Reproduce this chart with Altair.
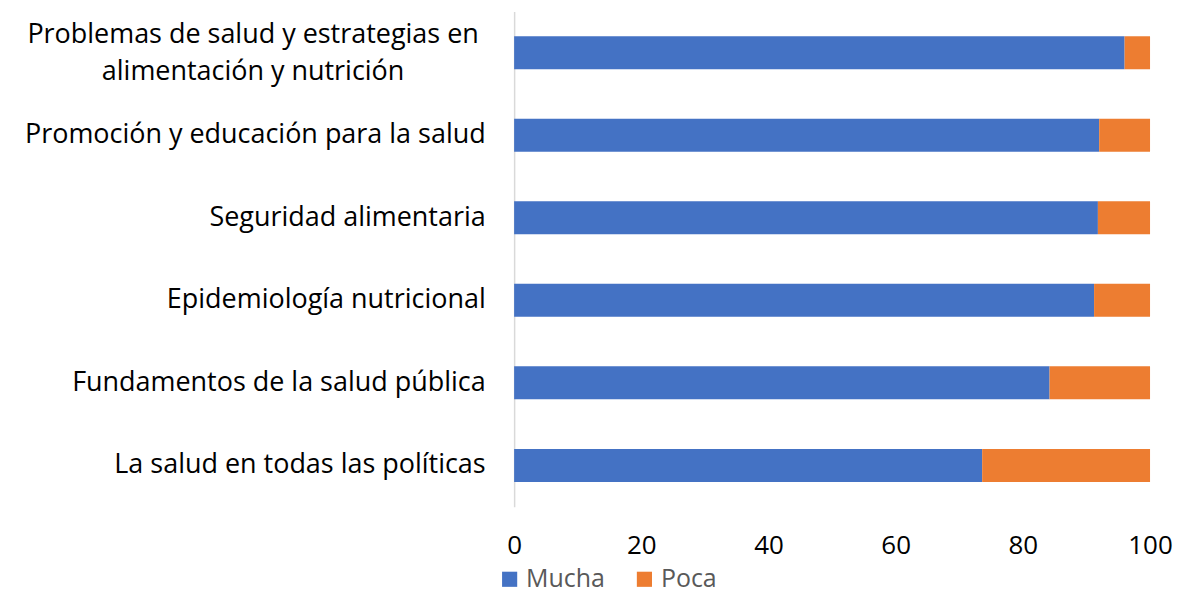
import altair as alt
import pandas as pd

categories = [
    "Problemas de salud y estrategias en|alimentación y nutrición",
    "Promoción y educación para la salud",
    "Seguridad alimentaria",
    "Epidemiología nutricional",
    "Fundamentos de la salud pública",
    "La salud en todas las políticas",
]
mucha = [96.0, 92.0, 91.8, 91.2, 84.2, 73.6]
poca = [4.0, 8.0, 8.2, 8.8, 15.8, 26.4]
series = ["Mucha", "Poca"]
colors = ["#4472C4", "#ED7D31"]

rows = []
for c, m, p in zip(categories, mucha, poca):
    rows.append({"cat": c, "serie": "Mucha", "val": m, "ord": 0})
    rows.append({"cat": c, "serie": "Poca", "val": p, "ord": 1})
df = pd.DataFrame(rows)

FONT = "Open Sans"
WRAP = "indexof(datum.value, '|') >= 0"

chart = alt.Chart(df).mark_bar().encode(
    y=alt.Y("cat:N", sort=categories, title=None,
            scale=alt.Scale(paddingInner=0.6, paddingOuter=0.3),
            axis=alt.Axis(labelExpr="split(datum.label, '|')", labelFontSize=27,
                          labelColor="#000000", labelFont=FONT, ticks=False,
                          labelPadding={"condition": {"test": WRAP, "value": 262}, "value": 29},
                          labelAlign={"condition": {"test": WRAP, "value": "center"}, "value": "right"},
                          labelLimit=600, labelLineHeight=37,
                          labelOffset={"condition": {"test": WRAP, "value": -18}, "value": 0},
                          domainColor="#D9D9D9", domainWidth=1.5)),
    x=alt.X("val:Q", stack="zero", title=None,
            scale=alt.Scale(domain=[0, 100], nice=False),
            axis=alt.Axis(values=[0, 20, 40, 60, 80, 100], grid=False, domain=False,
                          ticks=False, labelFontSize=26, labelColor="#000000",
                          labelFont=FONT, labelPadding=26, labelFlush=False)),
    color=alt.Color("serie:N", scale=alt.Scale(domain=series, range=colors),
                    legend=alt.Legend(title=None, orient="none", direction="horizontal",
                                      legendX=-17, legendY=556, symbolType="square",
                                      symbolSize=230, labelFontSize=25, labelFont=FONT,
                                      labelColor="#595959", columnPadding=26,
                                      symbolStrokeWidth=0)),
    order=alt.Order("ord:Q"),
).properties(
    width=637, height=496,
    autosize=alt.AutoSizeParams(type="none"),
    padding={"left": 507, "top": 3, "right": 24, "bottom": 88},
).configure_view(stroke=None)

chart.save("out.html", embed_options={"renderer": "svg", "actions": False})
